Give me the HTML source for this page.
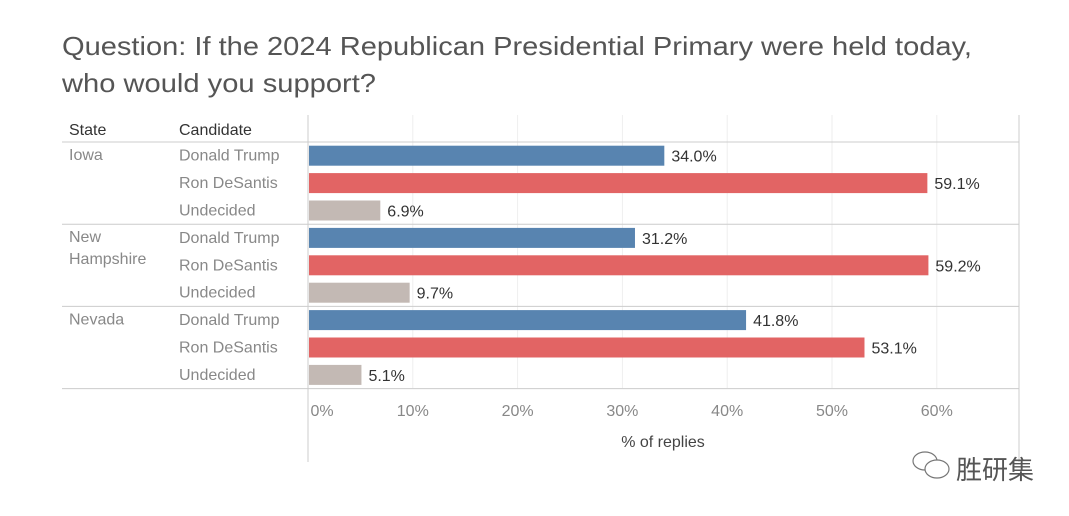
<!DOCTYPE html>
<html><head><meta charset="utf-8"><style>
body{margin:0;background:#fff;width:1069px;height:516px;overflow:hidden;font-family:"Liberation Sans","Noto Sans CJK SC",sans-serif}
</style></head><body>
<svg width="1069" height="516" id="c" style="position:absolute;left:0;top:0">
<text x="62" y="55" font-size="26" fill="#555" textLength="910" lengthAdjust="spacingAndGlyphs">Question: If the 2024 Republican Presidential Primary were held today,</text>
<text x="62" y="92" font-size="26" fill="#555" textLength="314" lengthAdjust="spacingAndGlyphs">who would you support?</text>
<text x="69" y="135" font-size="16" fill="#333">State</text>
<text x="179" y="135" font-size="16" fill="#333">Candidate</text>
<line x1="308" y1="115" x2="308" y2="462" stroke="#ccc"/>
<line x1="1019" y1="115" x2="1019" y2="462" stroke="#ccc"/>
<text x="663" y="447" font-size="16" fill="#444" text-anchor="middle">% of replies</text>
<g>
<ellipse cx="925" cy="461" rx="12" ry="9" fill="none" stroke="#777" stroke-width="1.2"/>
<ellipse cx="937" cy="469" rx="12" ry="9" fill="white" stroke="#777" stroke-width="1.2"/>
<text x="956" y="479" font-size="26" fill="#555">胜研集</text>
</g>
</svg>
<script>
const states=["Iowa","New Hampshire","Nevada"];
const candidates=["Donald Trump","Ron DeSantis","Undecided"];
const values=[[34.0,59.1,6.9],[31.2,59.2,9.7],[41.8,53.1,5.1]];
const ticks=[0,10,20,30,40,50,60];
const colors=["#5884b0","#e26464","#c3b9b4"];
const svg=document.getElementById('c');
const NS="http://www.w3.org/2000/svg";
const x0=308,k=10.48,top0=142,rowH=27.4;
const xs=v=>x0+v*k;
function mk(t,a){const e=document.createElementNS(NS,t);for(const n in a)e.setAttribute(n,a[n]);svg.appendChild(e);return e;}
ticks.forEach(t=>{
 if(t>0){const g=mk('line',{x1:xs(t),x2:xs(t),y1:115,y2:388,stroke:'#eee'});
 
 }
 const l=mk('text',{x:t===0?xs(t)+14:xs(t),y:416,'font-size':16,fill:'#888','text-anchor':'middle'});
 l.textContent=t+'%';
 
 
});
[0,1,2,3].forEach(i=>{
 const y=top0+i*rowH*3;
 const s=mk('line',{x1:62,x2:1019,y1:y,y2:y,stroke:'#ccc'});
 
 
});
states.forEach((st,si)=>{
 const gy=top0+si*rowH*3;
 const words=st==="New Hampshire"?["New","Hampshire"]:[st];
 words.forEach((w,wi)=>{
  const t=mk('text',{x:69,y:gy+18+wi*22,'font-size':16,fill:'#888'});
  t.textContent=w;
  
  
 });
 candidates.forEach((c,ci)=>{
  const cy=gy+rowH*ci+rowH/2;
  const t=mk('text',{x:179,y:cy+5,'font-size':16,fill:'#888'});
  t.textContent=c;
  
  
  const v=values[si][ci];
  const b=mk('rect',{x:x0+1,y:cy-10,width:xs(v)-x0-1,height:20,fill:colors[ci]});
  
  
  const l=mk('text',{x:xs(v)+7,y:cy+6,'font-size':16,fill:'#333'});
  l.textContent=v.toFixed(1)+'%';
  
  
 });
});
</script>
</body></html>
